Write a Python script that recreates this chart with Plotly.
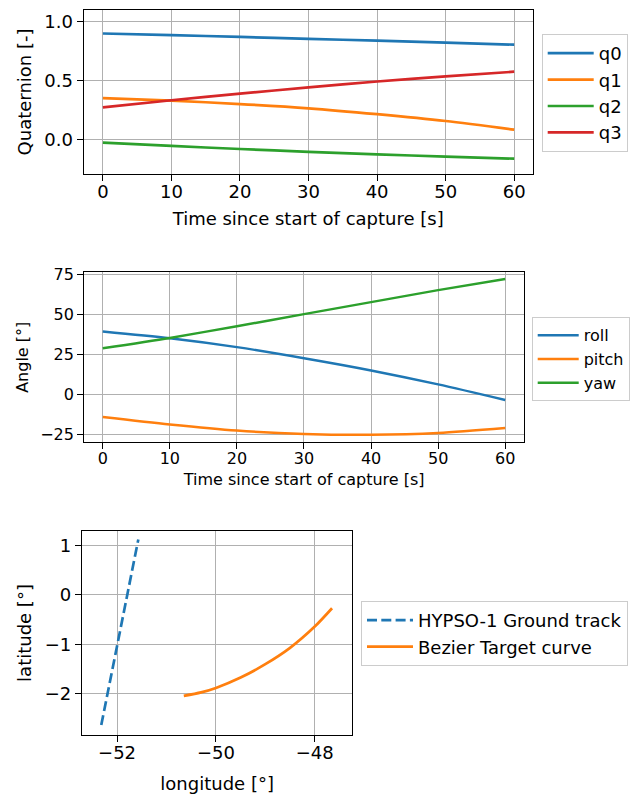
import plotly.graph_objects as go

W, H = 633, 794

# ---- data ----
time_s = [0, 10, 20, 30, 40, 50, 60]
q0 = [0.900, 0.886, 0.871, 0.855, 0.839, 0.822, 0.805]
q1 = [0.352, 0.331, 0.302, 0.266, 0.216, 0.158, 0.085]
q2 = [-0.025, -0.053, -0.079, -0.103, -0.124, -0.144, -0.161]
q3 = [0.274, 0.334, 0.390, 0.443, 0.493, 0.537, 0.576]

roll = [39.2, 35.0, 29.5, 22.6, 15.0, 6.3, -3.4]
pitch = [-14.0, -18.6, -22.4, -24.5, -25.0, -23.9, -20.8]
yaw = [28.8, 35.2, 42.5, 50.0, 57.5, 65.0, 71.9]

track_lon = [-52.32, -51.57]
track_lat = [-2.63, 1.12]
curve_lon = [-50.65, -50.3, -50.0, -49.5, -49.0, -48.5, -48.0, -47.65]
curve_lat = [-2.04, -1.97, -1.88, -1.67, -1.40, -1.07, -0.64, -0.27]

quat_names = ["q0", "q1", "q2", "q3"]
angle_names = ["roll", "pitch", "yaw"]

C = ["#1f77b4", "#ff7f0e", "#2ca02c", "#d62728"]
FONT = "DejaVu Sans"

fig = go.Figure()

for name, vals, col in zip(quat_names, [q0, q1, q2, q3], C):
    fig.add_trace(go.Scatter(x=time_s, y=vals, name=name, mode="lines",
                             line=dict(color=col, width=2.7, shape="spline", smoothing=0.8),
                             xaxis="x", yaxis="y", legend="legend"))

for name, vals, col in zip(angle_names, [roll, pitch, yaw], C):
    fig.add_trace(go.Scatter(x=time_s, y=vals, name=name, mode="lines",
                             line=dict(color=col, width=2.4, shape="spline", smoothing=0.8),
                             xaxis="x2", yaxis="y2", legend="legend2"))

fig.add_trace(go.Scatter(x=track_lon, y=track_lat, name="HYPSO-1 Ground track", mode="lines",
                         line=dict(color=C[0], width=2.7, dash="10px,4.3px"),
                         xaxis="x3", yaxis="y3", legend="legend3"))
fig.add_trace(go.Scatter(x=curve_lon, y=curve_lat, name="Bezier Target curve", mode="lines",
                         line=dict(color=C[1], width=2.7, shape="spline", smoothing=0.8),
                         xaxis="x3", yaxis="y3", legend="legend3"))

# empty helper traces so the tick-mark overlay axes are instantiated
for xa, ya in [("x4", "y"), ("x5", "y2"), ("x6", "y3")]:
    fig.add_trace(go.Scatter(x=[], y=[], xaxis=xa, yaxis=ya, showlegend=False,
                             hoverinfo="skip", mode="lines"))


def px_x(a, b):
    return [a / W, b / W]


def px_y(top, bottom):
    return [1 - bottom / H, 1 - top / H]


def axis(domain, rng, dtick, fsize, title, anchor, standoff, fmt=None, lw=1.3, tlen=6):
    d = dict(domain=domain, range=rng, dtick=dtick, tick0=0, autorange=False,
             automargin=False,
             showgrid=True, gridcolor="#b0b0b0", gridwidth=lw - 0.1, zeroline=False,
             showline=True, linecolor="black", linewidth=lw, mirror=True,
             ticks="outside", ticklen=tlen, tickwidth=lw, tickcolor="black",
             tickfont=dict(size=fsize, color="black", family=FONT),
             title=dict(text=title, font=dict(size=fsize, color="black", family=FONT),
                        standoff=standoff),
             anchor=anchor)
    if fmt:
        d["tickformat"] = fmt
    return d


def tick_overlay(over, domain, rng, dtick, anchor, lw=1.3):
    return dict(overlaying=over, domain=domain, range=rng, dtick=dtick, tick0=0,
                autorange=False, automargin=False, anchor=anchor,
                showgrid=False, zeroline=False, showline=False, showticklabels=False,
                ticks="outside", ticklen=6, tickwidth=lw, tickcolor="black")


def legend(x, y, fsize, iw):
    return dict(x=x / W, y=1 - y / H, xanchor="left", yanchor="top",
                xref="paper", yref="paper", itemwidth=iw,
                bgcolor="rgba(255,255,255,0.8)", bordercolor="#cccccc", borderwidth=1,
                font=dict(size=fsize, color="black", family=FONT))


d1 = px_x(83.7, 532.7)
d2 = px_x(84.3, 524)
d3 = px_x(82, 352.3)
r1 = [-2.8, 62.7]
r2 = [-2.75, 62.8]
r3 = [-52.71, -47.24]

fig.update_layout(
    width=W, height=H,
    margin=dict(l=0, r=0, t=0, b=0, autoexpand=False),
    paper_bgcolor="white", plot_bgcolor="white",
    font=dict(family=FONT, color="black"),
    showlegend=True,
    xaxis=axis(d1, r1, 10, 18, "Time since start of capture [s]", "y", 11, tlen=1),
    yaxis=axis(px_y(10, 174), [-0.291, 1.099], 0.5, 18, "Quaternion [-]", "x", 8, fmt=".1f"),
    xaxis2=axis(d2, r2, 10, 16, "Time since start of capture [s]", "y2", 7, tlen=1),
    yaxis2=axis(px_y(272.3, 442.3), [-29.7, 76.06], 25, 16, "Angle [°]", "x2", 7),
    xaxis3=axis(d3, r3, 2, 18, "longitude [°]", "y3", 15, tlen=1),
    yaxis3=axis(px_y(531, 735), [-2.83, 1.29], 1, 18, "latitude [°]", "x3", 8),
    xaxis4=tick_overlay("x", d1, r1, 10, "y"),
    xaxis5=tick_overlay("x2", d2, r2, 10, "y2"),
    xaxis6=tick_overlay("x3", d3, r3, 2, "y3"),
    legend=legend(541.7, 34, 18, 46),
    legend2=legend(531.7, 317.3, 16, 41),
    legend3=legend(361, 601, 18, 46),
)

fig.write_html("out.html", config={"displayModeBar": False},
               post_script="document.body.style.margin='0';document.body.style.padding='0';")
